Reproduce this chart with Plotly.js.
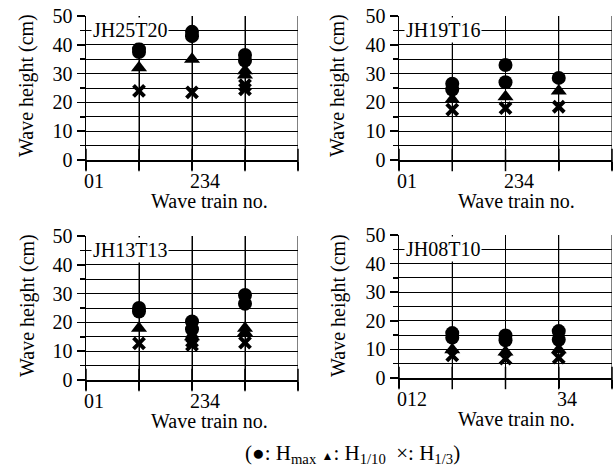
<!DOCTYPE html>
<html><head><meta charset="utf-8">
<script src="https://cdn.plot.ly/plotly-3.0.1.min.js"></script>
<style>html,body{margin:0;padding:0;background:#fff}#chart{width:616px;height:469px}</style>
</head><body><div id="chart"></div><script>
// ---- data ----
const panelNames = ['JH25T20', 'JH19T16', 'JH13T13', 'JH08T10'];

const jh25HmaxX = [1, 1, 2, 2, 3, 3];
const jh25Hmax  = [37.5, 38.5, 43, 44.5, 34.5, 36.5];
const jh25H10X  = [1, 2, 3, 3];
const jh25H10   = [32, 35, 29.5, 31];
const jh25H3X   = [1, 2, 3, 3];
const jh25H3    = [24, 23.5, 24.5, 26];

const jh19HmaxX = [1, 1, 2, 2, 3];
const jh19Hmax  = [26.5, 24.5, 33, 27, 28.5];
const jh19H10X  = [1, 2, 3];
const jh19H10   = [21, 22, 24];
const jh19H3X   = [1, 2, 3];
const jh19H3    = [17.5, 18, 18.5];

const jh13HmaxX = [1, 1, 2, 2, 3, 3];
const jh13Hmax  = [25, 23.8, 20.3, 17.6, 29.5, 26.5];
const jh13H10X  = [1, 2, 3, 3];
const jh13H10   = [18, 15, 16.5, 18];
const jh13H3X   = [1, 2, 2, 3];
const jh13H3    = [12.7, 12.2, 13.5, 13];

const jh08HmaxX = [1, 1, 2, 2, 3, 3];
const jh08Hmax  = [15.7, 14.1, 14.9, 13.2, 16.4, 13.4];
const jh08H10X  = [1, 2, 3];
const jh08H10   = [9.9, 9.1, 9.9];
const jh08H3X   = [1, 2, 3];
const jh08H3    = [7.9, 6.8, 7.1];

const xTickVals = [0, 1, 2, 3, 4];
const yRange = [0, 50];
const tickPosA = [0, 2];
const tickTextA = ['01', '234'];
const tickPosB = [0, 3];
const tickTextB = ['012', '34'];

const yTitle = 'Wave height (cm)';
const xTitle = 'Wave train no.';

// ---- layout helpers ----
const W = 616, H = 469;
const FONT = '"Liberation Serif", "DejaVu Serif", serif';
const FS = 20;
const px2x = p => p / W;
const px2y = p => 1 - p / H;

const panelsDef = [
  {ax: '', hx: jh25HmaxX, h: jh25Hmax, tx: jh25H10X, t: jh25H10, cx: jh25H3X, c: jh25H3,
   xd: [86, 298], yd: [16, 160], tp: tickPosA, tt: tickTextA, tickY: 181, xtY: 201, xtX: 209, ytX: 27, ytY: 86},
  {ax: '2', hx: jh19HmaxX, h: jh19Hmax, tx: jh19H10X, t: jh19H10, cx: jh19H3X, c: jh19H3,
   xd: [399, 612], yd: [16, 160], tp: tickPosA, tt: tickTextA, tickY: 181, xtY: 201, xtX: 516, ytX: 338, ytY: 86},
  {ax: '3', hx: jh13HmaxX, h: jh13Hmax, tx: jh13H10X, t: jh13H10, cx: jh13H3X, c: jh13H3,
   xd: [86, 298], yd: [236, 380], tp: tickPosA, tt: tickTextA, tickY: 401, xtY: 421, xtX: 209, ytX: 27, ytY: 306},
  {ax: '4', hx: jh08HmaxX, h: jh08Hmax, tx: jh08H10X, t: jh08H10, cx: jh08H3X, c: jh08H3,
   xd: [399, 612], yd: [235, 378], tp: tickPosB, tt: tickTextB, tickY: 399, xtY: 419, xtX: 516, ytX: 338, ytY: 306}
];

const traces = [];
const layout = {
  width: W, height: H,
  margin: {l: 0, r: 0, t: 0, b: 0},
  paper_bgcolor: '#fff', plot_bgcolor: '#fff',
  showlegend: false,
  font: {family: FONT, size: FS, color: '#000'},
  annotations: []
};

panelsDef.forEach((p, i) => {
  const xa = 'x' + p.ax, ya = 'y' + p.ax;

  // vertical grid lines at the x tick values (drawn through the x/y scales)
  const gx = [], gy = [];
  xTickVals.filter(v => v > 0).forEach(v => { gx.push(v, v, null); gy.push(yRange[0], yRange[1], null); });
  traces.push({x: gx, y: gy, xaxis: xa, yaxis: ya, type: 'scatter', mode: 'lines',
    line: {color: '#000', width: 1}, hoverinfo: 'skip'});
  // x tick marks (vertical tick symbol centred on the axis line; the upper half lies on the grid line)
  traces.push({x: xTickVals, y: xTickVals.map(() => yRange[0]), xaxis: xa, yaxis: ya, type: 'scatter', mode: 'markers',
    marker: {symbol: 'line-ns-open', size: 16, color: '#000', line: {color: '#000', width: 1.5}}, cliponaxis: false, hoverinfo: 'skip'});

  traces.push({x: p.hx, y: p.h, xaxis: xa, yaxis: ya, type: 'scatter', mode: 'markers',
    marker: {symbol: 'circle', size: 14, color: '#000'}, cliponaxis: false});
  traces.push({x: p.tx, y: p.t, xaxis: xa, yaxis: ya, type: 'scatter', mode: 'markers',
    marker: {symbol: 'triangle-up', size: 14, color: '#000'}, cliponaxis: false});
  traces.push({x: p.cx, y: p.c, xaxis: xa, yaxis: ya, type: 'scatter', mode: 'markers',
    marker: {symbol: 'x-thin', size: 11, color: '#000', line: {color: '#000', width: 4}}, cliponaxis: false});

  layout['xaxis' + p.ax] = {
    domain: [px2x(p.xd[0]), px2x(p.xd[1])], anchor: ya,
    range: [0, 4], tickmode: 'linear', tick0: 0, dtick: 1, showticklabels: false,
    ticks: 'outside', ticklen: 8, tickwidth: 1.5, tickcolor: '#000',
    showgrid: true, gridcolor: '#000', gridwidth: 1,
    showline: true, linecolor: '#000', linewidth: 2, zeroline: false, fixedrange: true
  };
  layout['yaxis' + p.ax] = {
    domain: [px2y(p.yd[1]), px2y(p.yd[0])], anchor: xa,
    range: yRange, tickmode: 'linear', dtick: 10, tick0: 0,
    ticks: 'outside', ticklen: 8, tickwidth: 1.5, tickcolor: '#000',
    tickfont: {family: FONT, size: FS, color: '#000'},
    showgrid: true, gridcolor: '#000', gridwidth: 1,
    minor: {dtick: 5, ticks: 'outside', ticklen: 5, tickcolor: '#000', showgrid: true, gridcolor: '#000', gridwidth: 1},
    showline: true, linecolor: '#000', linewidth: 1.5, zeroline: false, fixedrange: true
  };

  // panel label
  layout.annotations.push({xref: xa, yref: ya, x: 0.1, y: 45, text: panelNames[i],
    xanchor: 'left', yanchor: 'middle', showarrow: false, bgcolor: '#fff', borderpad: 1,
    font: {family: FONT, size: FS, color: '#000'}});
  // tick labels
  p.tp.forEach((v, k) => {
    layout.annotations.push({xref: xa, yref: 'paper', x: v, y: px2y(p.tickY), text: p.tt[k],
      xanchor: 'left', yanchor: 'middle', xshift: -4, showarrow: false,
      font: {family: FONT, size: FS, color: '#000'}});
  });
  // axis titles
  layout.annotations.push({xref: 'paper', yref: 'paper', x: px2x(p.xtX), y: px2y(p.xtY), text: xTitle,
    xanchor: 'center', yanchor: 'middle', showarrow: false, font: {family: FONT, size: FS, color: '#000'}});
  layout.annotations.push({xref: 'paper', yref: 'paper', x: px2x(p.ytX), y: px2y(p.ytY), text: yTitle,
    textangle: -90, xanchor: 'center', yanchor: 'middle', showarrow: false, font: {family: FONT, size: FS, color: '#000'}});
});

// legend note
layout.annotations.push({xref: 'paper', yref: 'paper', x: px2x(352), y: px2y(454),
  text: '(●: H<sub>max</sub> <span style="font-size:12px">▲</span>: H<sub>1/10</sub>  ×: H<sub>1/3</sub>)',
  xanchor: 'center', yanchor: 'middle', showarrow: false, font: {family: FONT, size: 21, color: '#000'}});

Plotly.newPlot('chart', traces, layout, {staticPlot: true, displayModeBar: false}).then(gd => {
  // small white serif glyph added after drawing, to make sure the serif face is in use and repainted
  const d = document.createElement('div');
  d.style.cssText = 'position:absolute;left:2px;top:452px;color:#fff;font:20px "Liberation Serif";';
  d.textContent = '.';
  document.body.appendChild(d);
});
</script></body></html>
